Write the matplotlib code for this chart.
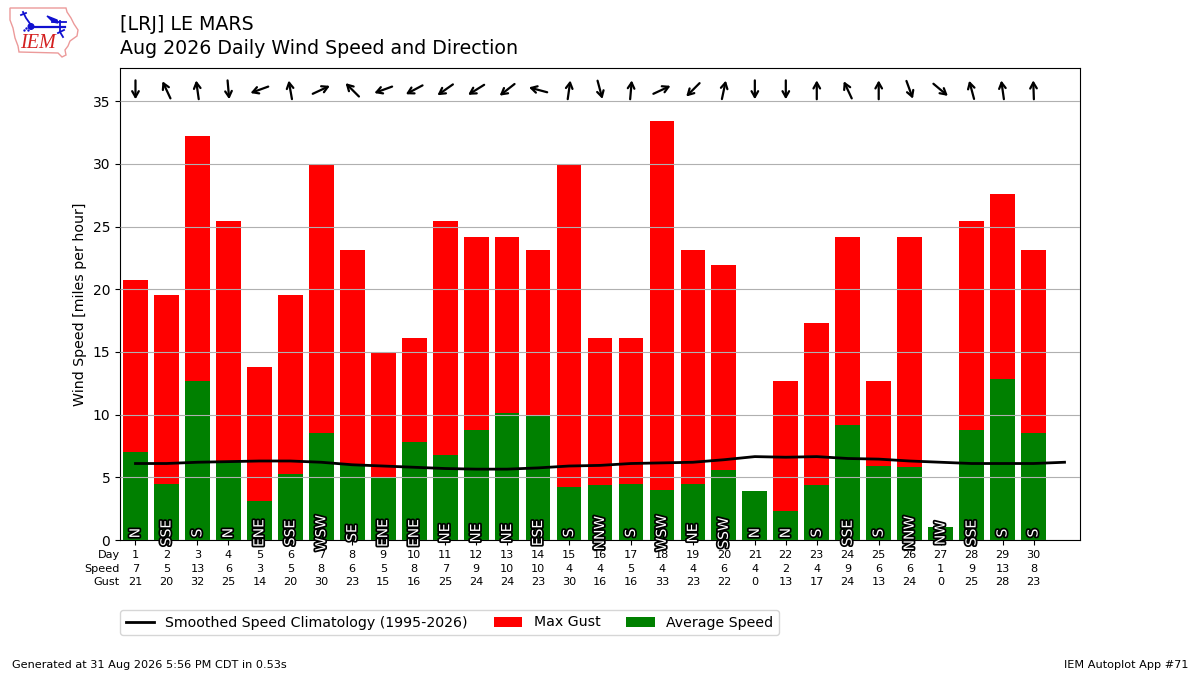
import math
import matplotlib
matplotlib.use("Agg")
import matplotlib.pyplot as plt
import matplotlib.patheffects as pe
from matplotlib.patches import Polygon, Circle
from matplotlib.transforms import offset_copy

days = list(range(1, 31))
avg_speed = [7.0, 4.5, 12.7, 6.2, 3.1, 5.3, 8.5, 6.0, 5.0, 7.8, 6.8, 8.8, 10.1, 10.0, 4.2,
             4.4, 4.5, 4.0, 4.5, 5.6, 3.9, 2.3, 4.4, 9.2, 5.9, 5.8, 1.0, 8.8, 12.8, 8.5]
max_gust = [20.7, 19.5, 32.2, 25.4, 13.8, 19.5, 30.0, 23.1, 14.9, 16.1, 25.4, 24.2, 24.2, 23.1, 30.0,
            16.1, 16.1, 33.4, 23.1, 21.9, 0.0, 12.7, 17.3, 24.2, 12.7, 24.2, 0.0, 25.4, 27.6, 23.1]
speed_labels = [7, 5, 13, 6, 3, 5, 8, 6, 5, 8, 7, 9, 10, 10, 4, 4, 5, 4, 4, 6, 4, 2, 4, 9, 6, 6, 1, 9, 13, 8]
gust_labels = [21, 20, 32, 25, 14, 20, 30, 23, 15, 16, 25, 24, 24, 23, 30, 16, 16, 33, 23, 22, 0, 13, 17, 24, 13, 24, 0, 25, 28, 23]
dir_text = ["N", "SSE", "S", "N", "ENE", "SSE", "WSW", "SE", "ENE", "ENE", "NE", "NE", "NE", "ESE", "S",
            "NNW", "S", "WSW", "NE", "SSW", "N", "N", "S", "SSE", "S", "NNW", "NW", "SSE", "S", "S"]
dir_deg = [0, 155, 172, 355, 70, 170, 245, 135, 70, 62, 55, 58, 52, 105, 188,
           345, 185, 245, 45, 192, 0, 0, 180, 155, 180, 340, 310, 165, 172, 178]
clim_days = list(range(1, 32))
clim_speed = [6.1, 6.1, 6.2, 6.25, 6.3, 6.3, 6.2, 6.0, 5.9, 5.8, 5.7, 5.65, 5.65, 5.75, 5.9, 5.95,
              6.1, 6.15, 6.2, 6.4, 6.65, 6.6, 6.65, 6.5, 6.45, 6.3, 6.2, 6.1, 6.1, 6.1, 6.2]

W, H = 1200, 675
fig = plt.figure(figsize=(W / 100, H / 100), dpi=100)
ax = fig.add_axes([120 / W, 1 - 540 / H, 960 / W, 472 / H])

ax.bar(days, max_gust, width=0.8, color="red", label="Max Gust", zorder=1)
ax.bar(days, avg_speed, width=0.8, color="green", label="Average Speed", zorder=1.5)
ax.plot(clim_days, clim_speed, color="black", lw=2, zorder=3,
        label="Smoothed Speed Climatology (1995-2026)")
ax.grid(axis="y", zorder=2)
ax.set_axisbelow(False)
ax.set_xlim(0.5, 31.5)
ax.set_ylim(0, 37.64)
ax.set_yticks(range(0, 36, 5))
ax.set_xticks(days)
ax.set_xticklabels([])
ax.set_ylabel("Wind Speed [miles per hour]", fontsize=10.15, y=0.5)

half = 6.8  # half arrow length in points
for d, label, deg in zip(days, dir_text, dir_deg):
    ax.text(d, 0.55, label, rotation=90, ha="center", va="center", fontsize=10, color="white",
            zorder=4, path_effects=[pe.withStroke(linewidth=2.5, foreground="black")], clip_on=False)
    # the arrow points the way the wind blows, away from the compass direction it comes from
    rad = math.radians(deg)
    dx, dy = math.sin(rad) * half, math.cos(rad) * half
    ax.annotate("", xy=(d, 35.9), xytext=(d, 35.9),
                xycoords=offset_copy(ax.transData, fig=fig, x=-dx, y=-dy, units="points"),
                textcoords=offset_copy(ax.transData, fig=fig, x=dx, y=dy, units="points"),
                zorder=4, arrowprops=dict(arrowstyle="->,head_length=0.3,head_width=0.17", lw=1.6, color="black",
                                          shrinkA=0, shrinkB=0, mutation_scale=14))

rows = [("Day", days, 555), ("Speed", speed_labels, 569), ("Gust", gust_labels, 582)]
for name, values, py in rows:
    fy = 1 - py / H
    fig.text(120 / W, fy, name, ha="right", va="center", fontsize=8.1)
    for d, v in zip(days, values):
        ax.annotate(str(v), (d, fy), xycoords=("data", "figure fraction"), ha="center", va="center",
                    fontsize=8.1, annotation_clip=False)

handles, labels = ax.get_legend_handles_labels()
order = [labels.index("Smoothed Speed Climatology (1995-2026)"), labels.index("Max Gust"), labels.index("Average Speed")]
fig.legend([handles[i] for i in order], [labels[i] for i in order], ncol=3, loc="center left",
           bbox_to_anchor=(113 / W, 1 - 622.5 / H), frameon=True, fontsize=10.2, columnspacing=1.83)

fig.text(120 / W, 1 - 25 / H, "[LRJ] LE MARS", fontsize=13.65, ha="left", va="center")
fig.text(120 / W, 1 - 48 / H, "Aug 2026 Daily Wind Speed and Direction", fontsize=13.65, ha="left", va="center")
fig.text(12 / W, 1 - 665 / H, "Generated at 31 Aug 2026 5:56 PM CDT in 0.53s", fontsize=8.1, ha="left", va="center")
fig.text(1188 / W, 1 - 665 / H, "IEM Autoplot App #71", fontsize=8.1, ha="right", va="center")

# IEM logo, in image pixels
logo = fig.add_axes([0, 1 - 60 / H, 90 / W, 60 / H])
logo.set_xlim(0, 90)
logo.set_ylim(60, 0)
logo.axis("off")
outline = [(10, 8), (66, 8), (67, 12), (71, 18), (74, 24), (78, 30), (77, 36), (70, 41), (68, 46),
           (65, 50), (66, 55), (62, 57), (58, 53), (19, 52), (18, 46), (15, 38), (13, 28), (10, 20)]
logo.add_patch(Polygon(outline, closed=True, fill=False, ec="#ec9a9a", lw=1))
blue = "#1010d0"
logo.plot([31, 65], [26.5, 26.5], color=blue, lw=1.6)
logo.add_patch(Circle((31, 26.5), 2.8, color=blue))
logo.plot([31, 26, 23], [25, 18, 12], color=blue, lw=1.3)
logo.plot([21, 26], [15, 13], color=blue, lw=1.3)
logo.add_patch(Polygon([(47, 16), (57, 20), (58, 23), (53, 22)], closed=True, color=blue))
logo.plot([52, 66], [21.5, 21.5], color=blue, lw=1.3)
logo.plot([60, 60, 63], [21, 32, 37], color=blue, lw=1.3)
logo.plot([58, 64], [33, 30], color=blue, lw=1.3)
logo.scatter([24, 26, 28], [30, 28, 30], s=3, color=blue, lw=0)
logo.text(37.5, 44, "IEM", color="#d42020", fontsize=14.5, family="Liberation Serif", style="italic",
          ha="center", va="center")

fig.savefig("out.png", dpi=100)
